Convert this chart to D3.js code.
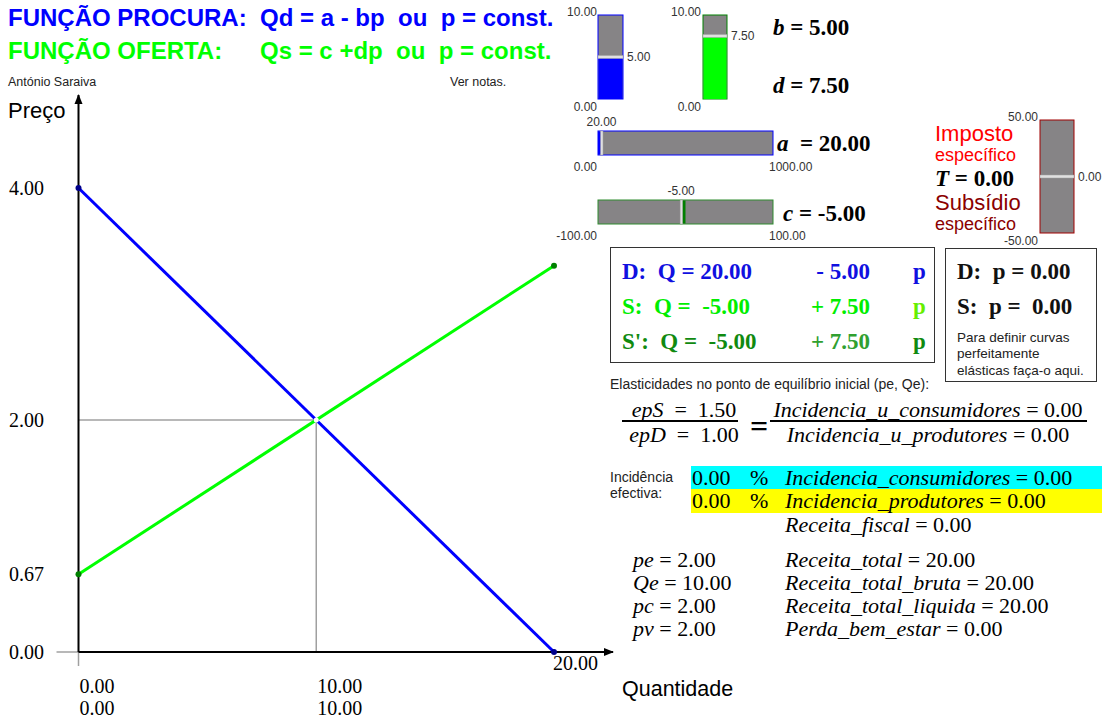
<!DOCTYPE html>
<html lang="pt">
<head>
<meta charset="UTF-8">
<title>Procura e oferta</title>
<script src="https://cdn.jsdelivr.net/npm/d3@7"></script>
<style>
  body { margin: 0; background: #fff; }
  text { white-space: pre; }
</style>
</head>
<body>
<script>
// dados
var params = {a: 20, b: 5, c: -5, d: 7.5, T: 0};
var demandPoints = [{q: 0, p: 4}, {q: 20, p: 0}];
var supplyPoints = [{q: 0, p: 0.67}, {q: 20, p: 3.33}];
var equilibrium = {q: 10, p: 2};
var priceTicks = [0, 0.67, 2, 4];
var qtyTicks = [0, 10];
var qtyEnd = 20;

var width = 1104, height = 719;
var svg = d3.select("body").append("svg")
    .attr("width", width).attr("height", height);

var SANS = "Liberation Sans, Arial, sans-serif";
var SERIF = "Liberation Serif, Times New Roman, serif";

var x = d3.scaleLinear().domain([0, 20]).range([78.5, 554]);
var y = d3.scaleLinear().domain([0, 4]).range([652, 188]);

function txt(px, py, s, o) {
    o = o || {};
    return svg.append("text").attr("x", px).attr("y", py)
        .attr("font-family", o.family || SANS)
        .attr("font-size", o.size || 12)
        .attr("font-weight", o.weight || "normal")
        .attr("font-style", o.style || "normal")
        .attr("fill", o.fill || "#000")
        .attr("text-anchor", o.anchor || "start")
        .text(s);
}

// texto com nome em itálico e valor direito
function eq(px, py, name, val, o) {
    o = o || {};
    var t = svg.append("text").attr("x", px).attr("y", py)
        .attr("font-family", SERIF).attr("font-size", o.size || 22)
        .attr("font-weight", o.weight || "normal")
        .attr("fill", o.fill || "#000")
        .attr("text-anchor", o.anchor || "start");
    t.append("tspan").attr("font-style", "italic").text(name);
    t.append("tspan").text((o.sep || " = ") + val);
    return t;
}

/* títulos */
txt(8, 26, "FUNÇÃO PROCURA:", {size: 24, weight: "bold", fill: "#0000ff"});
txt(260, 26, "Qd = a - bp  ou  p = const.", {size: 24, weight: "bold", fill: "#0000ff"});
txt(8, 59, "FUNÇÃO OFERTA:", {size: 24, weight: "bold", fill: "#00ff00"});
txt(260, 59, "Qs = c +dp  ou  p = const.", {size: 24, weight: "bold", fill: "#00ff00"});
txt(8, 86, "António Saraiva", {size: 12.5, fill: "#222"});
txt(450, 86, "Ver notas.", {size: 12.5, fill: "#222"});

/* linhas de equilíbrio (cinzento) */
svg.append("line").attr("x1", x(0)).attr("x2", x(equilibrium.q))
    .attr("y1", y(equilibrium.p)).attr("y2", y(equilibrium.p))
    .attr("stroke", "#a0a0a0").attr("stroke-width", 1.5);
svg.append("line").attr("x1", x(equilibrium.q)).attr("x2", x(equilibrium.q))
    .attr("y1", y(equilibrium.p)).attr("y2", y(0))
    .attr("stroke", "#a0a0a0").attr("stroke-width", 1.5);
svg.append("line").attr("x1", x(0) - 22).attr("x2", x(0))
    .attr("y1", y(0)).attr("y2", y(0)).attr("stroke", "#a0a0a0").attr("stroke-width", 1.5);
svg.append("line").attr("x1", x(0)).attr("x2", x(0))
    .attr("y1", y(0)).attr("y2", y(0) + 14).attr("stroke", "#a0a0a0").attr("stroke-width", 1.5);

/* eixos */
var defs = svg.append("defs");
defs.append("marker").attr("id", "arr").attr("viewBox", "0 0 10 10")
    .attr("refX", 9).attr("refY", 5).attr("markerWidth", 5).attr("markerHeight", 5)
    .attr("orient", "auto").attr("markerUnits", "strokeWidth")
    .append("path").attr("d", "M0,1L10,5L0,9z").attr("fill", "#000");

svg.append("line").attr("x1", x(0)).attr("x2", x(0)).attr("y1", y(0)).attr("y2", 95)
    .attr("stroke", "#000").attr("stroke-width", 2).attr("marker-end", "url(#arr)");
svg.append("line").attr("x1", x(0)).attr("x2", 613).attr("y1", y(0)).attr("y2", y(0))
    .attr("stroke", "#000").attr("stroke-width", 2).attr("marker-end", "url(#arr)");

txt(8, 118, "Preço", {size: 22});
txt(622, 696, "Quantidade", {size: 21.5});

priceTicks.forEach(function(p) {
    txt(9, y(p) + 7, p.toFixed(2), {family: SERIF, size: 20});
});
qtyTicks.forEach(function(q) {
    txt(x(q) + 1, 693, q.toFixed(2), {family: SERIF, size: 20});
    txt(x(q) + 1, 715, q.toFixed(2), {family: SERIF, size: 20});
});
txt(x(qtyEnd) - 1, 670, qtyEnd.toFixed(2), {family: SERIF, size: 20});

/* curvas */
var line = d3.line().x(function(d){ return x(d.q); }).y(function(d){ return y(d.p); });
svg.append("path").datum(demandPoints).attr("d", line)
    .attr("fill", "none").attr("stroke", "#0000ff").attr("stroke-width", 3);
svg.append("path").datum(supplyPoints).attr("d", line)
    .attr("fill", "none").attr("stroke", "#00ff00").attr("stroke-width", 3);
svg.selectAll(".dpt").data(demandPoints).enter().append("circle")
    .attr("cx", function(d){ return x(d.q); }).attr("cy", function(d){ return y(d.p); })
    .attr("r", 3).attr("fill", "#00008b");
svg.selectAll(".spt").data(supplyPoints).enter().append("circle")
    .attr("cx", function(d){ return x(d.q); }).attr("cy", function(d){ return y(d.p); })
    .attr("r", 3).attr("fill", "#008000");
svg.append("circle").attr("cx", x(equilibrium.q)).attr("cy", y(equilibrium.p))
    .attr("r", 2.5).attr("fill", "#fff");

/* controlos deslizantes */
function vSlider(px, py, w, h, lo, hi, val, fill, border, labLeft) {
    var s = d3.scaleLinear().domain([lo, hi]).range([py + h, py]);
    var z = Math.max(lo, Math.min(hi, 0));
    svg.append("rect").attr("x", px).attr("y", py).attr("width", w).attr("height", h)
        .attr("fill", "#868486").attr("stroke", border).attr("stroke-width", 1);
    var y0 = Math.min(s(z), s(val)), y1 = Math.max(s(z), s(val));
    if (y1 - y0 > 0) {
        svg.append("rect").attr("x", px + 0.5).attr("y", y0).attr("width", w - 1).attr("height", y1 - y0)
            .attr("fill", fill);
    }
    svg.append("rect").attr("x", px).attr("y", s(val) - 1.5).attr("width", w).attr("height", 3)
        .attr("fill", "#e0e0e0").attr("stroke", "#a0a0a0").attr("stroke-width", 0.5);
    txt(labLeft, py + 1, hi.toFixed(2), {size: 12, fill: "#333", anchor: "end"});
    txt(labLeft, py + h + 12, lo.toFixed(2), {size: 12, fill: "#333", anchor: "end"});
    txt(px + w + 4, s(val) + 4, val.toFixed(2), {size: 12, fill: "#333"});
}

function hSlider(px, py, w, h, lo, hi, val, fill, border) {
    var s = d3.scaleLinear().domain([lo, hi]).range([px, px + w]);
    var z = Math.max(lo, Math.min(hi, 0));
    svg.append("rect").attr("x", px).attr("y", py).attr("width", w).attr("height", h)
        .attr("fill", "#868486").attr("stroke", border).attr("stroke-width", 1);
    var x0 = Math.min(s(z), s(val)), x1 = Math.max(s(z), s(val));
    if (x1 - x0 > 0) {
        svg.append("rect").attr("x", x0).attr("y", py + 0.5).attr("width", x1 - x0).attr("height", h - 1)
            .attr("fill", fill);
    }
    svg.append("rect").attr("x", s(val) - 1).attr("y", py).attr("width", 2.5).attr("height", h)
        .attr("fill", "#e0e0e0").attr("stroke", "#a0a0a0").attr("stroke-width", 0.5);
    txt(s(val), py - 5, val.toFixed(2), {size: 12, fill: "#333", anchor: "middle"});
    txt(px - 1, py + h + 16, lo.toFixed(2), {size: 12, fill: "#333", anchor: "end"});
    txt(px + w - 4, py + h + 16, hi.toFixed(2), {size: 12, fill: "#333"});
}

vSlider(598, 15, 25, 84, 0, 10, params.b, "#0000ff", "#0000ff", 597);
vSlider(703, 15, 24, 84, 0, 10, params.d, "#00ff00", "#008000", 701);
hSlider(598, 131, 175, 24, 0, 1000, params.a, "#0000ff", "#0000ff");
hSlider(598, 200, 175, 24, -100, 100, params.c, "#008000", "#2e8b2e");
vSlider(1040, 120, 34, 113, -50, 50, params.T, "#a00000", "#a00000", 1038);

eq(773, 35, "b", params.b.toFixed(2), {weight: "bold", size: 23});
eq(773, 93, "d", params.d.toFixed(2), {weight: "bold", size: 23});
eq(777, 151, "a", params.a.toFixed(2), {weight: "bold", size: 23, sep: "  = "});
eq(783, 221, "c", params.c.toFixed(2), {weight: "bold", size: 23});

txt(935, 141, "Imposto", {size: 22, fill: "#ff0000"});
txt(935, 161, "específico", {size: 18, fill: "#ff0000"});
eq(935, 186, "T", params.T.toFixed(2), {weight: "bold", size: 23});
txt(935, 210, "Subsídio", {size: 22, fill: "#8b0000"});
txt(935, 230, "específico", {size: 18, fill: "#8b0000"});

/* caixa das equações */
svg.append("rect").attr("x", 610.5).attr("y", 247.5).attr("width", 324).attr("height", 115)
    .attr("fill", "#fff").attr("stroke", "#333").attr("stroke-width", 1);
var rows = [
    {lab: "D:  Q = ", k: params.a, op: "- ", s: params.b, col: "#1010e0", pcol: "#1010e0", y: 279},
    {lab: "S:  Q =  ", k: params.c, op: "+ ", s: params.d, col: "#00ee00", pcol: "#66ee00", y: 314},
    {lab: "S':  Q =  ", k: params.c, op: "+ ", s: params.d, col: "#108a10", pcol: "#108a10", y: 349}
];
rows.forEach(function(r, i) {
    var o = {family: SERIF, size: 23, weight: "bold", fill: r.col};
    txt(622, r.y, r.lab + r.k.toFixed(2), o);
    txt(870, r.y, r.op + r.s.toFixed(2), {family: SERIF, size: 23, weight: "bold",
        fill: i === 2 ? "#30a030" : r.col, anchor: "end"});
    txt(913, r.y, "p", {family: SERIF, size: 23, weight: "bold", fill: r.pcol});
});

svg.append("rect").attr("x", 945.5).attr("y", 248.5).attr("width", 151).attr("height", 133)
    .attr("fill", "#fff").attr("stroke", "#333").attr("stroke-width", 1);
txt(957, 279, "D:  p = 0.00", {family: SERIF, size: 23, weight: "bold", fill: "#111"});
txt(957, 314, "S:  p =  0.00", {family: SERIF, size: 23, weight: "bold", fill: "#111"});
txt(957, 342, "Para definir curvas", {size: 13.5, fill: "#222"});
txt(957, 358, "perfeitamente", {size: 13.5, fill: "#222"});
txt(957, 375, "elásticas faça-o aqui.", {size: 13.5, fill: "#222"});

/* elasticidades */
txt(610, 389, "Elasticidades no ponto de equilíbrio inicial (pe, Qe):", {size: 14, fill: "#222"});
eq(684, 417, "epS", "1.50", {anchor: "middle", sep: "  =  "});
eq(684, 442, "epD", "1.00", {anchor: "middle", sep: "  =  "});
svg.append("line").attr("x1", 622).attr("x2", 738).attr("y1", 421).attr("y2", 421)
    .attr("stroke", "#000").attr("stroke-width", 2);
txt(750, 437, "=", {family: SERIF, size: 32, weight: "bold"});
eq(928, 417, "Incidencia_u_consumidores", "0.00", {anchor: "middle"});
eq(928, 442, "Incidencia_u_produtores", "0.00", {anchor: "middle"});
svg.append("line").attr("x1", 770).attr("x2", 1087).attr("y1", 421).attr("y2", 421)
    .attr("stroke", "#000").attr("stroke-width", 2);

/* incidência efectiva */
txt(610, 482, "Incidência", {size: 14, fill: "#222"});
txt(610, 498, "efectiva:", {size: 14, fill: "#222"});
svg.append("rect").attr("x", 691).attr("y", 466).attr("width", 411).attr("height", 23).attr("fill", "#00ffff");
svg.append("rect").attr("x", 691).attr("y", 489).attr("width", 411).attr("height", 24).attr("fill", "#ffff00");
txt(692, 485, "0.00", {family: SERIF, size: 22});
txt(750, 485, "%", {family: SERIF, size: 22});
eq(785, 485, "Incidencia_consumidores", "0.00");
txt(692, 508, "0.00", {family: SERIF, size: 22});
txt(750, 508, "%", {family: SERIF, size: 22});
eq(785, 508, "Incidencia_produtores", "0.00");
eq(785, 532, "Receita_fiscal", "0.00");

var leftVals = [["pe", "2.00"], ["Qe", "10.00"], ["pc", "2.00"], ["pv", "2.00"]];
var rightVals = [["Receita_total", "20.00"], ["Receita_total_bruta", "20.00"],
                 ["Receita_total_liquida", "20.00"], ["Perda_bem_estar", "0.00"]];
leftVals.forEach(function(v, i) { eq(633, 567 + i * 23, v[0], v[1]); });
rightVals.forEach(function(v, i) { eq(785, 567 + i * 23, v[0], v[1]); });
</script>
</body>
</html>
